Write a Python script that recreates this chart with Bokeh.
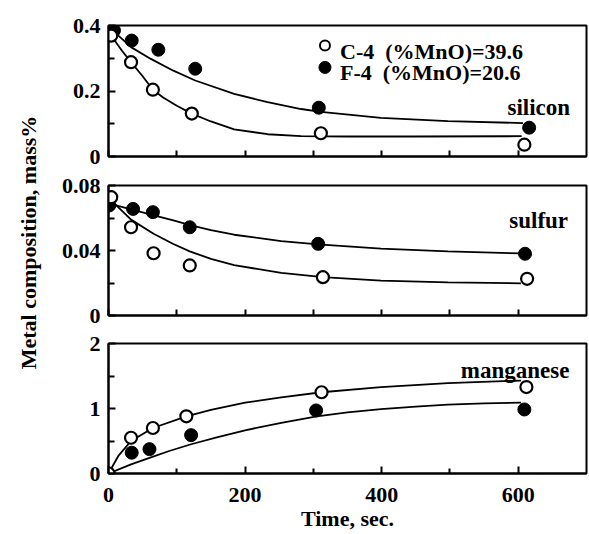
import math
from bokeh.plotting import figure
from bokeh.layouts import row, column
from bokeh.models import Range1d, FixedTicker, NumeralTickFormatter
from bokeh.core.properties import value
from bokeh.embed import file_html
from bokeh.resources import INLINE

# ---------------- data ----------------
SERIES = ["C-4\u00a0 (%MnO)=39.6", "F-4\u00a0 (%MnO)=20.6"]
PANELS = ["silicon", "sulfur", "manganese"]

# silicon
si_c4_t = [4, 33, 65, 122, 311, 609]
si_c4_y = [0.369, 0.288, 0.204, 0.131, 0.071, 0.036]
si_f4_t = [8, 34, 73, 127, 308, 616]
si_f4_y = [0.385, 0.354, 0.326, 0.268, 0.149, 0.088]
si_c4_fit_t = [4, 20, 33, 50, 65, 80, 100, 122, 150, 184, 233, 282, 350, 450, 605]
si_c4_fit_y = [0.369, 0.322, 0.288, 0.245, 0.204, 0.180, 0.155, 0.131, 0.107, 0.083, 0.068, 0.062, 0.061, 0.061, 0.062]
si_f4_fit_t = [6, 33, 62, 95, 127, 184, 233, 282, 311, 399, 497, 607]
si_f4_fit_y = [0.385, 0.334, 0.298, 0.262, 0.232, 0.191, 0.166, 0.145, 0.136, 0.118, 0.108, 0.102]

# sulfur
s_c4_t = [4, 33, 66, 119, 314, 613]
s_c4_y = [0.0728, 0.0543, 0.0383, 0.0308, 0.0236, 0.0226]
s_f4_t = [1, 36, 65, 119, 307, 610]
s_f4_y = [0.0677, 0.0656, 0.0636, 0.0543, 0.0441, 0.0380]
s_c4_fit_t = [4, 33, 66, 95, 119, 150, 184, 253, 314, 399, 497, 604]
s_c4_fit_y = [0.0708, 0.0590, 0.0503, 0.0440, 0.0395, 0.0348, 0.0310, 0.0262, 0.0236, 0.0215, 0.0204, 0.0198]
s_f4_fit_t = [4, 36, 65, 95, 121, 150, 184, 253, 307, 399, 497, 604]
s_f4_fit_y = [0.0685, 0.0650, 0.0618, 0.0585, 0.0555, 0.0525, 0.0497, 0.0458, 0.0438, 0.0412, 0.0394, 0.0382]

# manganese
mn_c4_t = [0, 33, 65, 114, 312, 612]
mn_c4_y = [0.0, 0.55, 0.70, 0.88, 1.25, 1.33]
mn_f4_t = [0, 34, 60, 121, 304, 609]
mn_f4_y = [0.0, 0.32, 0.375, 0.59, 0.97, 0.985]
mn_c4_fit_t = [0, 15, 33, 65, 114, 150, 200, 253, 312, 399, 497, 604]
mn_c4_fit_y = [0.0, 0.28, 0.50, 0.70, 0.88, 0.98, 1.09, 1.17, 1.25, 1.33, 1.39, 1.43]
mn_f4_fit_t = [0, 33, 60, 90, 121, 160, 200, 253, 305, 350, 399, 450, 497, 550, 604]
mn_f4_fit_y = [0.0, 0.14, 0.24, 0.35, 0.45, 0.56, 0.665, 0.78, 0.88, 0.94, 0.99, 1.03, 1.06, 1.08, 1.09]

x_ticks = [0, 200, 400, 600]
x_minor = [100, 300, 500]
si_ticks, si_minor = [0, 0.2, 0.4], [0.1, 0.3]
s_ticks, s_minor = [0, 0.04, 0.08], [0.02, 0.06]
mn_ticks, mn_minor = [0, 1, 2], [0.5, 1.5]

Y_LABEL = "Metal composition, mass%"
X_LABEL = "Time, sec."

# ---------------- styling ----------------
SERIF = "Liberation Serif"
W = 540
xr = Range1d(0, 700)


def panel(height, top, bottom, yr, ticks, minor, show_labels):
    p = figure(width=W, height=height, x_range=xr, y_range=Range1d(*yr),
               output_backend="svg", toolbar_location=None,
               min_border_left=60, min_border_right=2,
               min_border_top=top, min_border_bottom=bottom)
    p.grid.visible = False
    p.background_fill_color = "white"
    p.border_fill_color = "white"
    p.outline_line_color = "black"
    p.outline_line_width = 2
    p.outline_line_alpha = 1.0

    xa = p.xaxis[0]
    if show_labels:
        xa.ticker = FixedTicker(ticks=x_ticks, minor_ticks=x_minor)
    else:
        xa.ticker = FixedTicker(ticks=[], minor_ticks=sorted(x_ticks + x_minor))
    xa.axis_line_width = 2
    xa.major_tick_line_width = 2
    xa.minor_tick_line_width = 2
    xa.major_tick_in = 7
    xa.major_tick_out = 0
    xa.minor_tick_in = 5 if show_labels else 6
    xa.minor_tick_out = 0
    xa.major_label_text_font = SERIF
    xa.major_label_text_font_style = "bold"
    xa.major_label_text_color = "black"
    xa.major_label_text_font_size = "22px"
    xa.major_label_standoff = 14

    ya = p.yaxis[0]
    ya.ticker = FixedTicker(ticks=ticks, minor_ticks=minor)
    ya.formatter = NumeralTickFormatter(format="0.[00]")
    ya.axis_line_width = 2
    ya.major_tick_line_width = 2
    ya.minor_tick_line_width = 2
    ya.major_tick_in = 7
    ya.major_tick_out = 0
    ya.minor_tick_in = 6
    ya.minor_tick_out = 0
    ya.major_label_text_font = SERIF
    ya.major_label_text_font_style = "bold"
    ya.major_label_text_font_size = "22px"
    ya.major_label_text_color = "black"
    ya.major_label_standoff = 8
    return p


def draw(p, c_t, c_y, f_t, f_y, cf_t, cf_y, ff_t, ff_y):
    p.line(cf_t, cf_y, line_color="black", line_width=1.8)
    p.line(ff_t, ff_y, line_color="black", line_width=1.8)
    p.scatter(f_t, f_y, marker="circle", size=13, fill_color="black", line_color="black")
    p.scatter(c_t, c_y, marker="circle", size=12, fill_color="white", line_color="black", line_width=2.2)


def name_text(p, x, y, txt):
    p.text(x=[x], y=[y], text=[txt], text_align="right", text_baseline="alphabetic",
           text_font=value(SERIF), text_font_style="bold", text_font_size="23px", text_color="black")


p1 = panel(170, 25, 14, (0, 0.4), si_ticks, si_minor, False)
draw(p1, si_c4_t, si_c4_y, si_f4_t, si_f4_y, si_c4_fit_t, si_c4_fit_y, si_f4_fit_t, si_f4_fit_y)
name_text(p1, 676, 0.15, PANELS[0])
# legend
p1.scatter([317], [0.339], marker="circle", size=10, fill_color="white", line_color="black", line_width=2)
p1.scatter([317], [0.272], marker="circle", size=12, fill_color="black", line_color="black")
p1.text(x=[339, 339], y=[0.322, 0.256], text=SERIES, text_align="left", text_baseline="alphabetic",
        text_font=value(SERIF), text_font_style="bold", text_font_size="22px", text_color="black")

p2 = panel(158, 15, 13, (0, 0.08), s_ticks, s_minor, False)
draw(p2, s_c4_t, s_c4_y, s_f4_t, s_f4_y, s_c4_fit_t, s_c4_fit_y, s_f4_fit_t, s_f4_fit_y)
name_text(p2, 673, 0.0585, PANELS[1])

p3 = panel(206, 15, 61, (0, 2), mn_ticks, mn_minor, True)
draw(p3, mn_c4_t, mn_c4_y, mn_f4_t, mn_f4_y, mn_c4_fit_t, mn_c4_fit_y, mn_f4_fit_t, mn_f4_fit_y)
name_text(p3, 675, 1.585, PANELS[2])
p3.xaxis.axis_label = X_LABEL
p3.xaxis.axis_label_text_font = SERIF
p3.xaxis.axis_label_text_font_style = "bold"
p3.xaxis.axis_label_text_font_size = "22px"
p3.xaxis.axis_label_text_color = "black"
p3.xaxis.axis_label_standoff = 1

# y-axis title strip (pixel coordinates)
pl = figure(width=48, height=534, x_range=Range1d(0, 48), y_range=Range1d(0, 534),
            output_backend="svg", toolbar_location=None,
            min_border_left=0, min_border_right=0, min_border_top=0, min_border_bottom=0,
            x_axis_location=None, y_axis_location=None)
pl.grid.visible = False
pl.outline_line_color = None
pl.text(x=[28], y=[292], text=[Y_LABEL], angle=math.pi / 2, text_align="center",
        text_baseline="alphabetic", text_font=value(SERIF), text_font_style="bold",
        text_font_size="22px", text_color="black")

layout = row(pl, column(p1, p2, p3))

with open("out.html", "w") as f:
    f.write(file_html(layout, INLINE))
